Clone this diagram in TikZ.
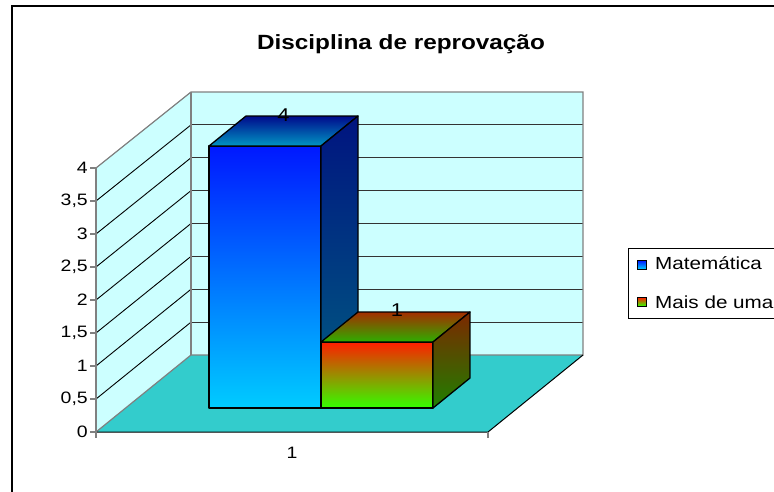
\documentclass[tikz,border=0pt]{standalone}
\usepackage{fontspec}
\setmainfont{Liberation Sans}
\definecolor{wallcyan}{RGB}{204,255,255}
\definecolor{floorteal}{RGB}{51,204,204}
\definecolor{wallgray}{RGB}{128,128,128}
\definecolor{matfront}{RGB}{0,24,255}
\definecolor{matfrontlow}{RGB}{0,204,255}
\definecolor{mattopback}{RGB}{0,10,140}
\definecolor{mattopfront}{RGB}{0,150,195}
\definecolor{matsidetop}{RGB}{0,20,128}
\definecolor{matsidelow}{RGB}{0,95,130}
\definecolor{maisred}{RGB}{255,30,0}
\definecolor{maismid}{RGB}{225,185,0}
\definecolor{maisgreen}{RGB}{51,255,0}
\definecolor{maistopback}{RGB}{165,45,0}
\definecolor{maistopfront}{RGB}{45,175,0}
\definecolor{maissidetop}{RGB}{125,40,0}
\definecolor{maissidelow}{RGB}{30,128,0}
\newcommand{\wide}[1]{\scalebox{1.18}[1]{#1}}

\begin{document}
\begin{tikzpicture}[x=1pt,y=-1pt,
    axislbl/.style={font=\fontsize{16.5}{18}\selectfont,inner sep=0pt},
    datalbl/.style={font=\fontsize{18.5}{20}\selectfont,inner sep=0pt},
    leglbl/.style={font=\fontsize{17.5}{19}\selectfont,inner sep=0pt,anchor=base west},
    titlelbl/.style={font=\bfseries\fontsize{20.6}{22}\selectfont,inner sep=0pt,anchor=base},
    wallline/.style={draw=wallgray,line width=1.2pt},
    barface/.style={draw=black,line width=1.3pt,line join=round}]
\useasboundingbox (0,0) rectangle (774,491);
\clip (0,0) rectangle (774,491);
% outer frame
\draw[line width=1.6pt] (12,6) rectangle (800,520);
\node[titlelbl] (title) at (401,49) {\wide{Disciplina de reprova\c{c}\~ao}};
% walls and floor
\fill[wallcyan] (96,432) -- (96,168) -- (191,92) -- (191,355) -- cycle;
\fill[wallcyan] (191,355) -- (191,92) -- (583,92) -- (583,355) -- cycle;
\foreach \v in {0.5,1,...,3.5} {
  \draw[black,line width=0.9pt] (96,432-66*\v) -- (191,355-65.75*\v);
  \draw[black!80,line width=0.9pt] (191,355-65.75*\v) -- (583,355-65.75*\v);
}
\fill[floorteal] (96,432) -- (191,355) -- (583,355) -- (488,432) -- cycle;
\draw[wallline] (96,168) -- (191,92) -- (583,92) -- (583,355) -- (191,355) -- (96,432);
\draw[wallline] (191,92) -- (191,355);
\draw[black,line width=1pt] (583,355) -- (488,432) -- (96,432);
% y axis
\draw[wallline] (96,168) -- (96,438);
\draw[wallline] (488,432) -- (488,438);
\foreach \v/\t [count=\i] in {0/0,0.5/{0,5},1/1,1.5/{1,5},2/2,2.5/{2,5},3/3,3.5/{3,5},4/4} {
  \draw[wallline] (90,432-66*\v) -- (96,432-66*\v);
  \node[axislbl,anchor=east] (ytick\i) at (88,432-66*\v) {\wide{\t}};
}
\node[axislbl] (cat) at (292,453) {\wide{1}};
% bar Matematica
\shadedraw[barface,top color=matfront,bottom color=matfrontlow] (209,146) rectangle (321,408);
\shadedraw[barface,top color=mattopback,bottom color=mattopfront] (209,146) -- (321,146) -- (358,116) -- (246,116) -- cycle;
\shadedraw[barface,top color=matsidetop,bottom color=matsidelow] (321,146) -- (358,116) -- (358,378) -- (321,408) -- cycle;
% bar Mais de uma
\shadedraw[barface,top color=maisred,middle color=maismid,bottom color=maisgreen] (321,342) rectangle (433,408);
\shadedraw[barface,top color=maistopback,bottom color=maistopfront] (321,342) -- (433,342) -- (470,312) -- (358,312) -- cycle;
\shadedraw[barface,top color=maissidetop,bottom color=maissidelow] (433,342) -- (470,312) -- (470,378) -- (433,408) -- cycle;
\node[datalbl] (val4) at (283.5,115) {\wide{4}};
\node[datalbl] (val1) at (397,310) {\wide{1}};
% legend
\draw[fill=white,line width=0.9pt] (628,248) rectangle (800,318);
\shadedraw[line width=0.7pt,top color=matfront,bottom color=matfrontlow] (637,260.5) rectangle (646,269);
\node[leglbl] (legmat) at (655,269.5) {\wide{Matem\'atica}};
\shadedraw[line width=0.7pt,top color=maisred,middle color=maismid,bottom color=maisgreen] (637,297.5) rectangle (646,306);
\node[leglbl] (legmais) at (655,308) {\wide{Mais de uma}};
\end{tikzpicture}
\end{document}
